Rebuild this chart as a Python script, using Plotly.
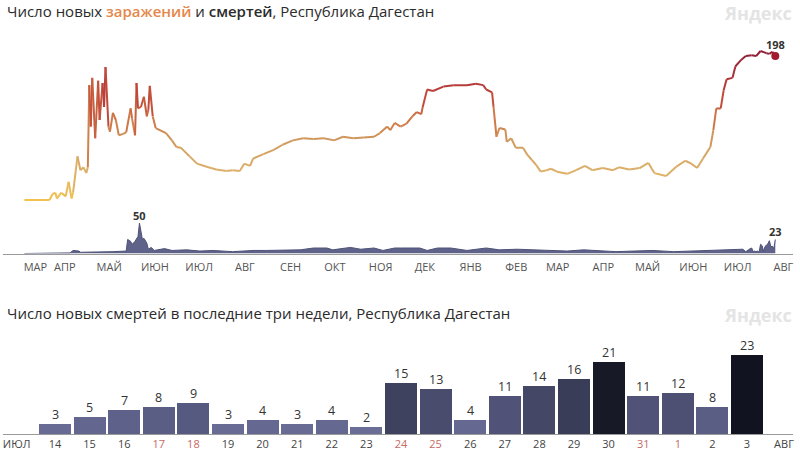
import plotly.graph_objects as go
import plotly.colors as pc
import pandas as pd

W, H = 800, 456

# ---------------- data ----------------
case_dates = [
    "2020-03-12", "2020-03-29", "2020-03-31", "2020-04-02", "2020-04-03", "2020-04-06", "2020-04-09",
    "2020-04-11", "2020-04-13", "2020-04-14", "2020-04-17", "2020-04-19", "2020-04-21", "2020-04-23",
    "2020-04-24", "2020-04-25", "2020-04-26", "2020-04-27", "2020-04-29", "2020-05-01", "2020-05-02",
    "2020-05-04", "2020-05-05", "2020-05-06", "2020-05-08", "2020-05-09", "2020-05-11", "2020-05-13",
    "2020-05-15", "2020-05-18", "2020-05-20", "2020-05-23", "2020-05-24", "2020-05-26", "2020-05-27",
    "2020-05-28", "2020-05-30", "2020-06-01", "2020-06-03", "2020-06-04", "2020-06-05", "2020-06-07",
    "2020-06-09", "2020-06-16", "2020-06-20", "2020-06-23", "2020-06-26", "2020-07-02", "2020-07-07",
    "2020-07-13", "2020-07-20", "2020-07-27", "2020-07-31", "2020-08-05", "2020-08-08", "2020-08-12",
    "2020-08-14", "2020-08-21", "2020-08-28", "2020-09-03", "2020-09-10", "2020-09-17", "2020-09-24",
    "2020-10-01", "2020-10-08", "2020-10-14", "2020-10-21", "2020-10-28", "2020-11-04", "2020-11-08",
    "2020-11-13", "2020-11-15", "2020-11-18", "2020-11-22", "2020-11-26", "2020-11-30", "2020-12-03",
    "2020-12-06", "2020-12-07", "2020-12-10", "2020-12-14", "2020-12-21", "2020-12-28", "2021-01-06",
    "2021-01-12", "2021-01-17", "2021-01-19", "2021-01-23", "2021-01-24", "2021-01-26", "2021-01-28",
    "2021-02-01", "2021-02-02", "2021-02-05", "2021-02-08", "2021-02-13", "2021-02-16", "2021-02-19",
    "2021-02-22", "2021-02-25", "2021-03-01", "2021-03-04", "2021-03-08", "2021-03-15", "2021-03-21",
    "2021-03-27", "2021-04-01", "2021-04-08", "2021-04-15", "2021-04-19", "2021-04-26", "2021-05-03",
    "2021-05-09", "2021-05-13", "2021-05-21", "2021-05-28", "2021-06-03", "2021-06-07", "2021-06-11",
    "2021-06-15", "2021-06-20", "2021-06-22", "2021-06-24", "2021-06-27", "2021-06-29", "2021-07-01",
    "2021-07-05", "2021-07-07", "2021-07-11", "2021-07-14", "2021-07-18", "2021-07-21", "2021-07-24",
    "2021-07-28", "2021-07-30", "2021-08-01", "2021-08-03",
]
case_values = [
    0, 0, 8, 10, 2, 10, 5,
    25, 2, 10, 60, 41, 45, 37,
    45, 158, 101, 168, 85, 164, 110,
    161, 128, 183, 101, 94, 120, 110,
    89, 91, 93, 126, 112, 89, 161,
    126, 128, 142, 115, 124, 157, 115,
    99, 92, 82, 73, 72, 60, 50,
    46, 42, 40, 41, 40, 50, 47,
    57, 63, 69, 76, 82, 85, 84,
    85, 82, 87, 85, 86, 87, 92,
    101, 96, 106, 101, 105, 115, 121,
    118, 128, 152, 150, 156, 158, 158,
    160, 158, 152, 148, 128, 87, 99,
    97, 80, 85, 72, 72, 62, 55,
    48, 39, 41, 43, 39, 36, 41,
    47, 41, 44, 41, 45, 42, 44,
    51, 37, 33, 46, 54, 50, 44,
    57, 73, 96, 126, 126, 151, 166,
    168, 184, 193, 198, 199, 198, 205,
    202, 201, 204, 198,
]

death_dates_early = [
    "2020-03-12", "2020-04-12", "2020-04-14", "2020-04-18", "2020-04-19", "2020-05-02", "2020-05-11",
    "2020-05-20", "2020-05-21", "2020-05-23", "2020-05-24", "2020-05-26", "2020-05-28", "2020-05-29",
    "2020-05-31", "2020-06-01", "2020-06-03", "2020-06-04", "2020-06-06", "2020-06-08", "2020-06-15",
    "2020-06-20", "2020-06-30", "2020-07-09", "2020-07-18", "2020-07-31", "2020-08-14", "2020-08-23",
    "2020-09-03", "2020-09-15", "2020-09-24", "2020-10-03", "2020-10-07", "2020-10-19", "2020-10-26",
    "2020-11-04", "2020-11-10", "2020-11-18", "2020-11-22", "2020-12-05", "2020-12-10", "2020-12-17",
    "2020-12-26", "2021-01-06", "2021-01-19", "2021-01-28", "2021-02-09", "2021-02-20", "2021-03-03",
    "2021-03-15", "2021-03-26", "2021-04-06", "2021-04-17", "2021-04-29", "2021-05-12", "2021-05-26",
    "2021-06-08", "2021-06-22", "2021-07-06", "2021-07-12",
]
death_values_early = [
    0, 1, 5, 4, 2, 2, 3,
    4, 23, 20, 15, 20, 28, 50,
    23, 25, 17, 7, 10, 5, 8,
    5, 6, 4, 5, 3, 5, 5,
    5, 6, 9, 9, 6, 10, 7,
    9, 5, 9, 9, 9, 5, 9,
    9, 5, 9, 6, 7, 6, 5,
    4, 6, 4, 3, 4, 5, 3,
    4, 5, 6, 7,
]

# last three weeks (14 July - 3 August 2021)
bar_days = ["14", "15", "16", "17", "18", "19", "20", "21", "22", "23", "24",
            "25", "26", "27", "28", "29", "30", "31", "1", "2", "3"]
bar_values = [3, 5, 7, 8, 9, 3, 4, 3, 4, 2, 15, 13, 4, 11, 14, 16, 21, 11, 12, 8, 23]
weekend_days = ["17", "18", "24", "25", "31", "1"]
bar_start = "2021-07-14"
bar_month_left = "ИЮЛ"
bar_month_right = "АВГ"

month_ticks = ["2020-03-12", "2020-04-01", "2020-05-01", "2020-06-01", "2020-07-01", "2020-08-01",
               "2020-09-01", "2020-10-01", "2020-11-01", "2020-12-01", "2021-01-01", "2021-02-01",
               "2021-03-01", "2021-04-01", "2021-05-01", "2021-06-01", "2021-07-01", "2021-08-01"]
month_labels = ["МАР", "АПР", "МАЙ", "ИЮН", "ИЮЛ", "АВГ", "СЕН", "ОКТ", "НОЯ", "ДЕК", "ЯНВ",
                "ФЕВ", "МАР", "АПР", "МАЙ", "ИЮН", "ИЮЛ", "АВГ"]

title_top = ("Число новых <span style='font-weight:600;color:#e5874b'>заражений</span> и "
             "<span style='font-weight:600'>смертей</span>, Республика Дагестан")
title_bottom = "Число новых смертей в последние три недели, Республика Дагестан"
logo = "Яндекс"

# ---------------- helpers ----------------
def px(x):
    return x / W


def py(y):
    return 1 - y / H


FONT = "Open Sans"
TEXT = "#2b2b2b"

bar_dates = [d.strftime("%Y-%m-%d") for d in pd.date_range(bar_start, periods=len(bar_values))]
death_dates = death_dates_early + bar_dates
death_values = death_values_early + bar_values

case_scale = [[0.0, "#f2c14f"], [0.2, "#dcb06a"], [0.4, "#cf9a5e"], [0.55, "#cf7443"],
              [0.7, "#c0463a"], [0.85, "#a8313a"], [1.0, "#8e1d36"]]
cmax_case = max(case_values)

fig = go.Figure()

# deaths area (top panel, base axis y)
fig.add_trace(go.Scatter(
    x=death_dates, y=death_values, mode="lines", fill="tozeroy",
    line=dict(color="#4f5278", width=1), fillcolor="#5f6289",
    xaxis="x", yaxis="y", hoverinfo="skip", showlegend=False))

# cases line with a value-dependent colour, one segment per pair of points
for i in range(len(case_values) - 1):
    mid = (case_values[i] + case_values[i + 1]) / 2 / cmax_case
    col = pc.sample_colorscale(case_scale, [mid])[0]
    fig.add_trace(go.Scatter(
        x=case_dates[i:i + 2], y=case_values[i:i + 2], mode="lines",
        line=dict(color=col, width=2), xaxis="x", yaxis="y2",
        hoverinfo="skip", showlegend=False))

fig.add_trace(go.Scatter(
    x=[case_dates[-1]], y=[case_values[-1]], mode="markers",
    marker=dict(color="#a3192f", size=8), xaxis="x", yaxis="y2",
    hoverinfo="skip", showlegend=False))

# bars (bottom panel)
bar_pos = list(range(1, len(bar_values) + 1))
bar_scale = [[0.0, "#6f729a"], [0.3, "#5e6189"], [0.55, "#4b4e70"], [0.7, "#3a3c57"],
             [0.9, "#181a28"], [1.0, "#111320"]]
fig.add_trace(go.Bar(
    x=bar_pos, y=bar_values, width=0.925,
    marker=dict(color=bar_values, colorscale=bar_scale, cmin=0, cmax=max(bar_values), line_width=0),
    xaxis="x2", yaxis="y3", hoverinfo="skip", showlegend=False))

bar_tickvals = [-0.11] + bar_pos + [22.07]
bar_ticktext = [bar_month_left] + [
    (f"<span style='color:#c46a66'>{d}</span>" if d in weekend_days else d) for d in bar_days
] + [bar_month_right]

x_dom = [px(3), px(793)]
top_dom = [py(253.5), py(40)]
bot_dom = [py(434), py(340)]

fig.update_layout(
    width=W, height=H, margin=dict(l=0, r=0, t=0, b=0),
    paper_bgcolor="white", plot_bgcolor="white", bargap=0,
    font=dict(family=FONT, color=TEXT),
    xaxis=dict(domain=x_dom, anchor="y", type="date",
               range=["2020-02-26 12:00", "2021-08-15"],
               tickvals=month_ticks, ticktext=month_labels, ticks="",
               tickfont=dict(family=FONT, size=11, color="#555"),
               ticklabelshift=11, ticklabelstandoff=3,
               showgrid=False, zeroline=False, showline=True, linecolor="#9a9a9a", linewidth=1),
    yaxis=dict(domain=top_dom, range=[0, 350], visible=False, fixedrange=True),
    yaxis2=dict(overlaying="y", range=[-73.6, 220.1], visible=False),
    xaxis2=dict(domain=x_dom, anchor="y3", range=[-0.503, 22.33],
                tickvals=bar_tickvals, ticktext=bar_ticktext, ticks="",
                tickfont=dict(family=FONT, size=11, color="#444"),
                showgrid=False, zeroline=False, showline=True, linecolor="#9a9a9a", linewidth=1),
    yaxis3=dict(domain=bot_dom, range=[0, 27.4], visible=False),
)

anns = [
    dict(text=title_top, x=px(5), y=py(11), xref="paper", yref="paper", xanchor="left",
         yanchor="middle", showarrow=False, font=dict(family=FONT, size=15, color=TEXT)),
    dict(text=title_bottom, x=px(5), y=py(313), xref="paper", yref="paper", xanchor="left",
         yanchor="middle", showarrow=False, font=dict(family=FONT, size=15, color=TEXT)),
    dict(text=f"<b>{logo}</b>", x=px(794), y=py(13), xref="paper", yref="paper", xanchor="right",
         yanchor="middle", showarrow=False, font=dict(family=FONT, size=18, color="#e4e4e4")),
    dict(text=f"<b>{logo}</b>", x=px(794), y=py(315), xref="paper", yref="paper", xanchor="right",
         yanchor="middle", showarrow=False, font=dict(family=FONT, size=18, color="#e4e4e4")),
    dict(text=f"<b>{case_values[-1]}</b>", x=case_dates[-1], y=case_values[-1], xref="x", yref="y2",
         yanchor="bottom", yshift=2, showarrow=False, font=dict(family=FONT, size=11, color="#333")),
]
peak_i = death_values.index(max(death_values))
anns.append(dict(text=f"<b>{death_values[peak_i]}</b>", x=death_dates[peak_i], y=death_values[peak_i],
                 xref="x", yref="y", yanchor="bottom", yshift=-2, showarrow=False,
                 font=dict(family=FONT, size=11, color="#333")))
anns.append(dict(text=f"<b>{death_values[-1]}</b>", x=death_dates[-1], y=death_values[-1],
                 xref="x", yref="y", yanchor="bottom", yshift=-1.5, showarrow=False,
                 font=dict(family=FONT, size=11, color="#333")))
# bar value labels
for p, v in zip(bar_pos, bar_values):
    anns.append(dict(text=str(v), x=p, y=v, xref="x2", yref="y3", yanchor="bottom", yshift=-1,
                     showarrow=False, font=dict(family=FONT, size=12.5, color="#333")))
fig.update_layout(annotations=anns)

fig.write_html("out.html", config={"displayModeBar": False})
